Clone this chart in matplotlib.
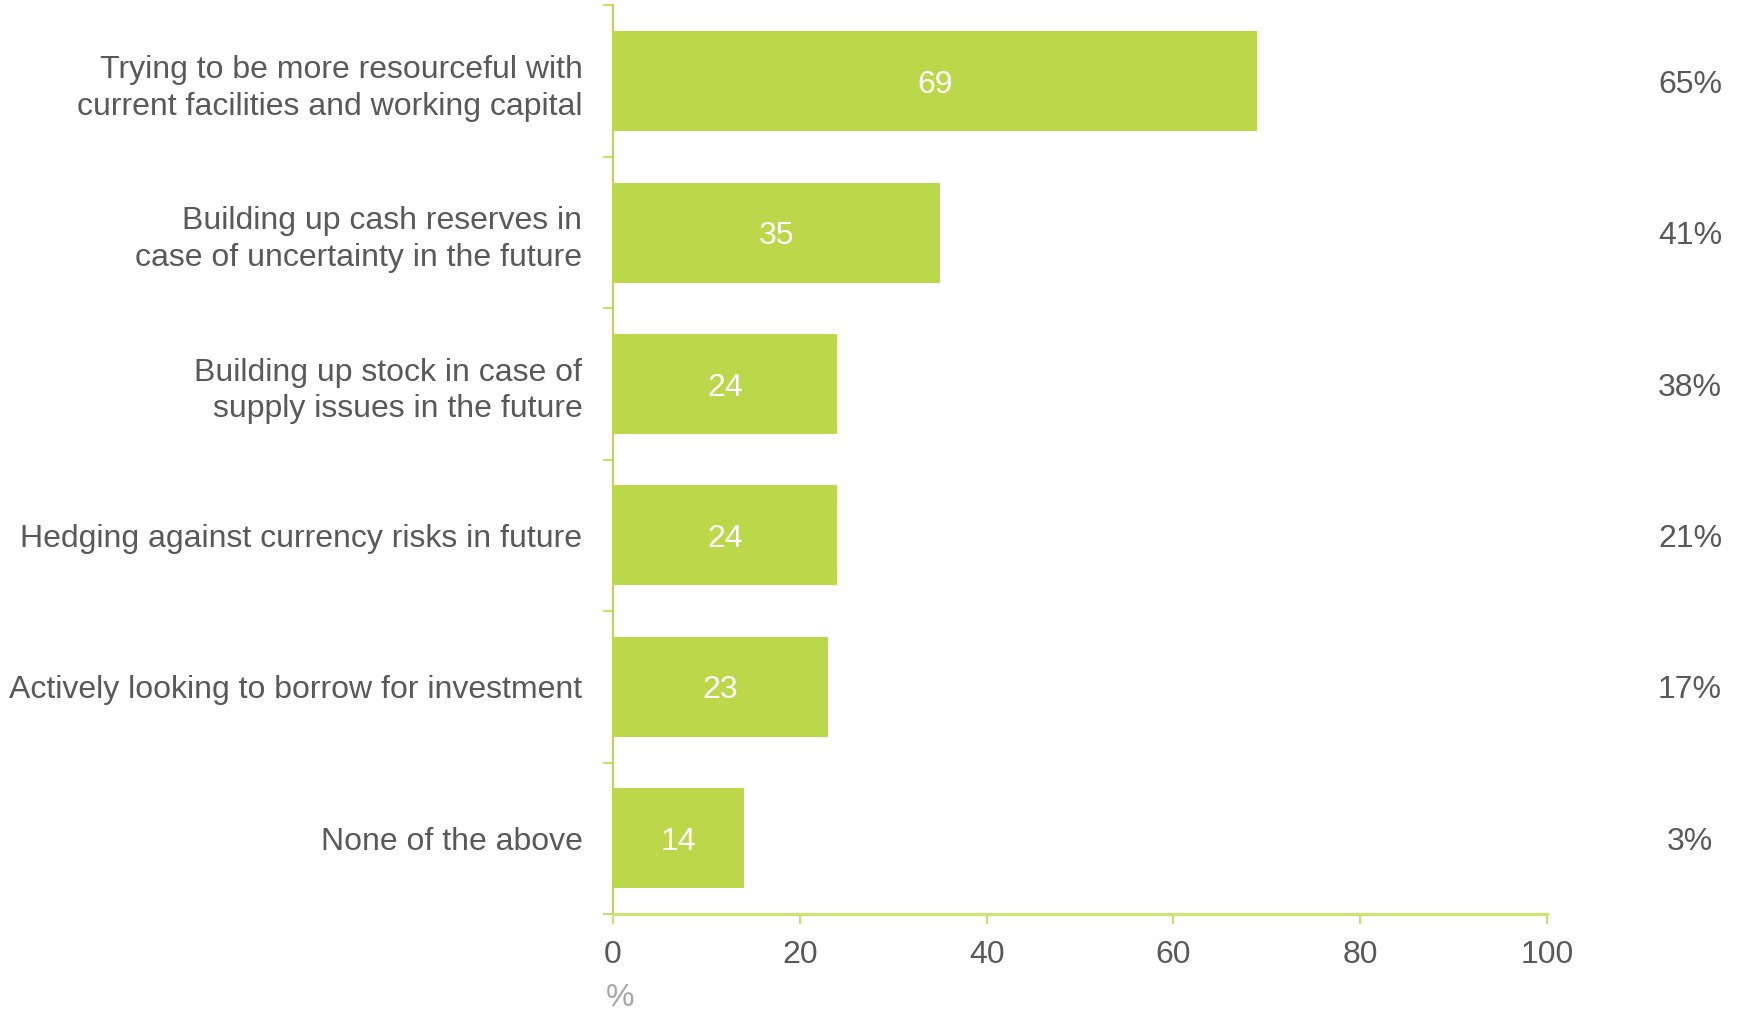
import numpy as np
import matplotlib.pyplot as plt
import matplotlib.transforms as mtransforms

plt.rcParams['font.family'] = ['Liberation Sans', 'DejaVu Sans']

labels = [
    "Trying to be more resourceful with\ncurrent facilities and working capital",
    "Building up cash reserves in\ncase of uncertainty in the future",
    "Building up stock in case of\nsupply issues in the future",
    "Hedging against currency risks in future",
    "Actively looking to borrow for investment",
    "None of the above",
]
values = [69, 35, 24, 24, 23, 14]
right_pct = ["65%", "41%", "38%", "21%", "17%", "3%"]
xticks = [0, 20, 40, 60, 80, 100]

green = "#BCD74A"
grey = "#595959"
fs = 23

fig = plt.figure(figsize=(17.37, 10.10), dpi=100)
ax = fig.add_axes([0.3529, 0.095, 0.5377, 0.8996])

y = np.arange(len(values))
ax.barh(y, values, height=0.66, color=green, zorder=2)
for yi, v in zip(y, values):
    ax.text(v / 2, yi, str(v), ha="center", va="center_baseline", color="white", fontsize=fs)

ax.set_xlim(0, 100)
ax.set_ylim(len(values) - 0.5, -0.5)

ax.set_xticks(xticks)
ax.set_xticklabels([str(t) for t in xticks], fontsize=fs, color=grey)
ax.tick_params(axis="x", direction="out", length=7, width=1.2, color=green, pad=12)

ax.set_yticks(y)
ax.set_yticklabels(labels, fontsize=fs, color=grey, linespacing=1.3)
ax.tick_params(axis="y", which="major", length=0, pad=22)
ax.set_yticks(np.arange(-0.5, len(values)), minor=True)
ax.tick_params(axis="y", which="minor", direction="out", length=7, width=1.2, color=green)

for s in ["top", "right"]:
    ax.spines[s].set_visible(False)
ax.spines["left"].set_color(green)
ax.spines["left"].set_linewidth(1.5)
ax.spines["bottom"].set_color("#CFE27E")
ax.spines["bottom"].set_linewidth(2.5)

# unit under the axis
ax.text(0.008, -0.092, "%", transform=ax.transAxes, ha="center", va="center",
        color="#A6A6A6", fontsize=fs)

# side column of percentages
trans = mtransforms.blended_transform_factory(fig.transFigure, ax.transData)
for yi, t in zip(y, right_pct):
    ax.text(0.973, yi, t, transform=trans, ha="center", va="center_baseline", fontsize=fs, color=grey)

fig.savefig("out.png", dpi=100)
